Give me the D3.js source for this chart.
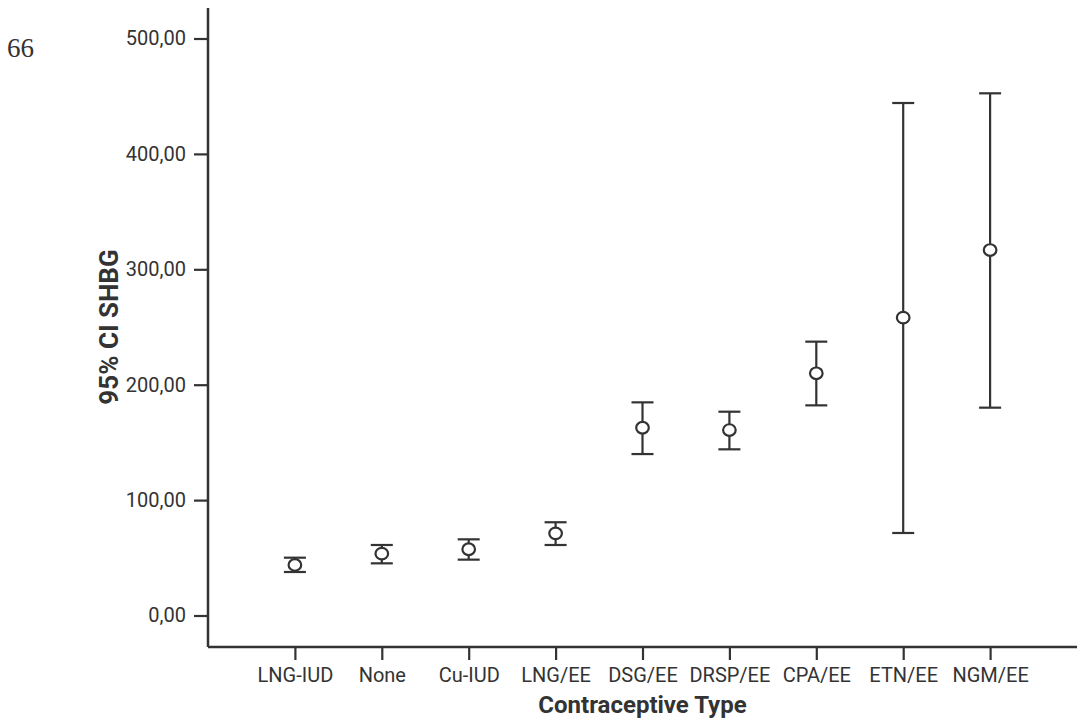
<!DOCTYPE html>
<html>
<head>
<meta charset="utf-8">
<script src="https://cdn.jsdelivr.net/npm/d3@7"></script>
<style>
  body { margin: 0; background: #fff; }
  text { font-family: Roboto, "Noto Sans", sans-serif; fill: #333; }
</style>
</head>
<body>
<div id="chart"></div>
<script>
// categories and 95% CI values
const categories = ["LNG-IUD", "None", "Cu-IUD", "LNG/EE", "DSG/EE", "DRSP/EE", "CPA/EE", "ETN/EE", "NGM/EE"];
const means = [43.8, 53.6, 57.4, 71.2, 162.7, 160.7, 209.9, 258.1, 316.7];
const lower = [37.7, 45.2, 48.4, 61.1, 139.9, 144.0, 182.1, 71.5, 180.1];
const upper = [50.1, 61.1, 66.0, 80.8, 184.7, 176.6, 237.3, 444.1, 452.5];
const yTicks = [0, 100, 200, 300, 400, 500];

const data = categories.map((c, i) => ({ cat: c, mean: means[i], lo: lower[i], hi: upper[i] }));

const W = 1077, H = 726;
const left = 208, right = 1077, axisTop = 8, axisBottom = 647;

const svg = d3.select("#chart").append("svg")
    .attr("width", W)
    .attr("height", H);

const x = d3.scalePoint()
    .domain(categories)
    .range([left, right])
    .padding(1);

const y = d3.scaleLinear()
    .domain([0, 500])
    .range([615.5, 38.5]);

const locale = d3.formatLocale({ decimal: ",", thousands: ".", grouping: [3], currency: ["", ""] });
const fmt = locale.format(".2f");

// y axis
const gy = svg.append("g")
    .attr("transform", "translate(" + left + ",0)")
    .call(d3.axisLeft(y).tickValues(yTicks).tickFormat(fmt).tickSize(14).tickPadding(8));
gy.select(".domain").remove();
gy.selectAll(".tick line").attr("stroke", "#333").attr("stroke-width", 2.2);
gy.selectAll(".tick text").attr("font-size", 20).attr("fill", "#333").attr("font-family", "Roboto, sans-serif");

// x axis
const gx = svg.append("g")
    .attr("transform", "translate(0," + axisBottom + ")")
    .call(d3.axisBottom(x).tickSize(13).tickPadding(8));
gx.select(".domain").remove();
gx.selectAll(".tick line").attr("stroke", "#333").attr("stroke-width", 2.2);
gx.selectAll(".tick text").attr("font-size", 20).attr("fill", "#333").attr("font-family", "Roboto, sans-serif");

// axis lines
svg.append("line")
    .attr("x1", left).attr("x2", left)
    .attr("y1", axisTop).attr("y2", axisBottom)
    .attr("stroke", "#333").attr("stroke-width", 2.5);
svg.append("line")
    .attr("x1", left).attr("x2", right)
    .attr("y1", axisBottom).attr("y2", axisBottom)
    .attr("stroke", "#333").attr("stroke-width", 2.5);

// error bars
const bars = svg.append("g").selectAll("g")
    .data(data)
    .enter()
    .append("g")
    .attr("stroke", "#333")
    .attr("stroke-width", 2.2)
    .attr("fill", "none");

bars.append("line")
    .attr("x1", d => x(d.cat)).attr("x2", d => x(d.cat))
    .attr("y1", d => y(d.lo)).attr("y2", d => y(d.hi));
bars.append("line")
    .attr("x1", d => x(d.cat) - 11).attr("x2", d => x(d.cat) + 11)
    .attr("y1", d => y(d.hi)).attr("y2", d => y(d.hi));
bars.append("line")
    .attr("x1", d => x(d.cat) - 11).attr("x2", d => x(d.cat) + 11)
    .attr("y1", d => y(d.lo)).attr("y2", d => y(d.lo));
bars.append("ellipse")
    .attr("cx", d => x(d.cat))
    .attr("cy", d => y(d.mean))
    .attr("rx", 6.3)
    .attr("ry", 5.8)
    .attr("fill", "#fff");

// titles
svg.append("text")
    .attr("x", (left + right) / 2 + 0)
    .attr("y", 713)
    .attr("text-anchor", "middle")
    .attr("font-size", 24)
    .attr("font-weight", "bold")
    .text("Contraceptive Type");

svg.append("text")
    .attr("transform", "translate(118,327) rotate(-90)")
    .attr("text-anchor", "middle")
    .attr("font-size", 26)
    .attr("font-weight", "bold")
    .text("95% CI SHBG");

// page number
svg.append("text")
    .attr("x", 7)
    .attr("y", 57)
    .attr("font-size", 27)
    .attr("font-family", "'Liberation Serif', 'DejaVu Serif', serif")
    .style("font-family", "'Liberation Serif', serif")
    .text("66");
</script>
</body>
</html>
